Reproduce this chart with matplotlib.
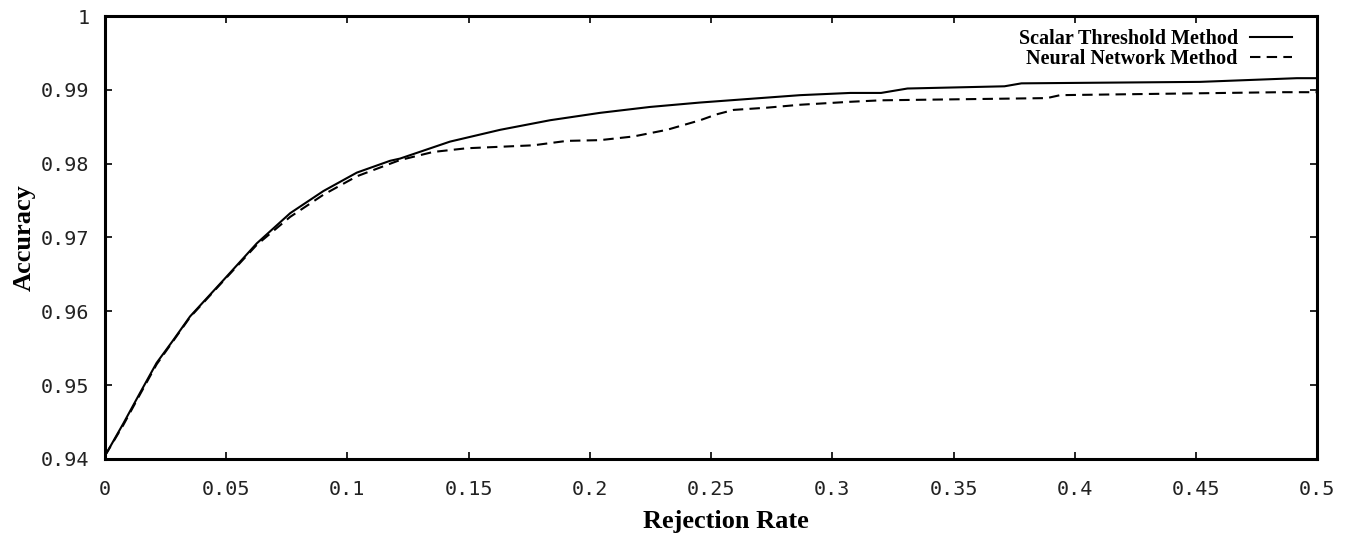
import matplotlib.pyplot as plt

# rejection rate vs accuracy
scalar_x = [0.0, 0.0007, 0.0076, 0.0144, 0.0213, 0.0282, 0.0351, 0.0488, 0.0626,
            0.0764, 0.0901, 0.1039, 0.1176, 0.1217, 0.1423, 0.1630, 0.1836, 0.2042,
            0.2248, 0.2455, 0.2661, 0.2868, 0.3074, 0.3201, 0.331, 0.371, 0.378,
            0.4517, 0.4916, 0.5]
scalar_y = [0.9405, 0.9408, 0.9448, 0.9489, 0.9530, 0.9561, 0.9593, 0.9642, 0.9692,
            0.9733, 0.9763, 0.9788, 0.9804, 0.9807, 0.9830, 0.9846, 0.9859, 0.9869,
            0.9877, 0.9883, 0.9888, 0.9893, 0.9896, 0.9896, 0.9902, 0.9905, 0.9909,
            0.9911, 0.9916, 0.9916]

neural_x = [0.0, 0.0007, 0.0076, 0.0144, 0.0213, 0.0282, 0.0351, 0.0488, 0.0626,
            0.0764, 0.0901, 0.1039, 0.1176, 0.1217, 0.1354, 0.1492, 0.1630, 0.1767,
            0.1905, 0.2042, 0.2180, 0.2318, 0.2455, 0.2523, 0.2593, 0.2730, 0.2868,
            0.3074, 0.3201, 0.3885, 0.394, 0.4847, 0.5]
neural_y = [0.9405, 0.9408, 0.9446, 0.9487, 0.9528, 0.9560, 0.9592, 0.9641, 0.9690,
            0.9728, 0.9758, 0.9783, 0.9800, 0.9805, 0.9816, 0.9821, 0.9823, 0.9825,
            0.9831, 0.9832, 0.9837, 0.9846, 0.9859, 0.9867, 0.9873, 0.9876, 0.9880,
            0.9884, 0.9886, 0.9889, 0.9893, 0.9897, 0.9897]

xticks = [0, 0.05, 0.1, 0.15, 0.2, 0.25, 0.3, 0.35, 0.4, 0.45, 0.5]
xtick_labels = ['0', '0.05', '0.1', '0.15', '0.2', '0.25', '0.3', '0.35', '0.4', '0.45', '0.5']
yticks = [0.94, 0.95, 0.96, 0.97, 0.98, 0.99, 1.0]
ytick_labels = ['0.94', '0.95', '0.96', '0.97', '0.98', '0.99', '1']

fig = plt.figure(figsize=(13.51, 5.41), dpi=100)
ax = fig.add_axes([0.0777, 0.152, 0.8973, 0.818])

ax.plot(scalar_x, scalar_y, color='black', lw=1.5, label='Scalar Threshold Method')
ax.plot(neural_x, neural_y, color='black', lw=1.5, dashes=(5, 3), label='Neural Network Method')

ax.set_xlim(0, 0.5)
ax.set_ylim(0.94, 1.0)
ax.set_xticks(xticks)
ax.set_xticklabels(xtick_labels, family='DejaVu Sans Mono', fontsize=14.5, color='#222222')
ax.set_yticks(yticks)
ax.set_yticklabels(ytick_labels, family='DejaVu Sans Mono', fontsize=14.5, color='#222222')
ax.tick_params(axis='x', direction='in', length=5, width=1.2, top=True, pad=15)
ax.tick_params(axis='y', direction='in', length=5, width=1.2, right=True, pad=11)
for s in ax.spines.values():
    s.set_linewidth(2.2)

ax.set_xlabel('Rejection Rate', family='Liberation Serif', weight='bold', fontsize=19, labelpad=6)
ax.xaxis.set_label_coords(0.512, -0.115)
ax.set_ylabel('Accuracy', family='Liberation Serif', weight='bold', fontsize=19, labelpad=4)

ax.legend(loc='upper right', bbox_to_anchor=(0.99, 1.0), frameon=False, markerfirst=False,
          handlelength=2.1, handletextpad=0.6, labelspacing=0.0, borderaxespad=0.25,
          prop={'family': 'Liberation Serif', 'weight': 'bold', 'size': 14.5})

fig.savefig('out.png', dpi=100)
